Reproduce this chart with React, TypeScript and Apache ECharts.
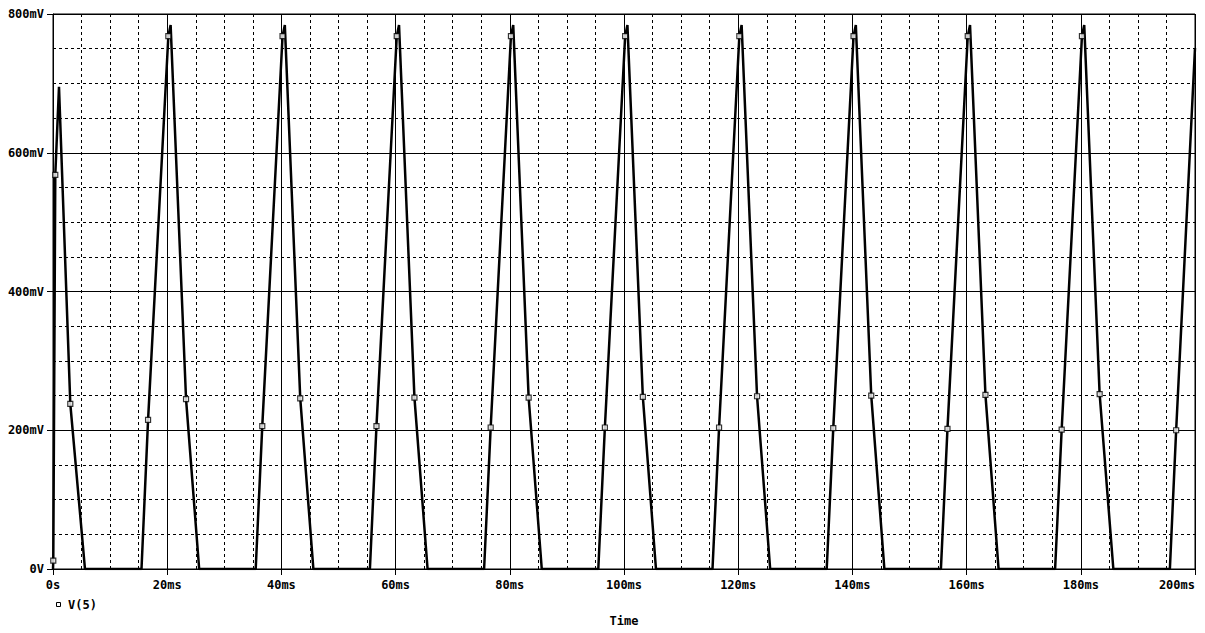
import React, { useEffect, useRef } from 'react';
import * as echarts from 'echarts';

// Time in ms, voltage in mV (trace V(5))
const timeMs = [
  0, 0.05, 0.4, 1.05, 3.03, 5.6,
  15.5, 16.65, 20.2, 20.6, 23.3, 25.6,
  35.5, 36.65, 40.2, 40.6, 43.3, 45.6,
  55.5, 56.65, 60.2, 60.6, 63.3, 65.6,
  75.5, 76.65, 80.2, 80.6, 83.3, 85.6,
  95.5, 96.65, 100.2, 100.6, 103.3, 105.6,
  115.5, 116.65, 120.2, 120.6, 123.3, 125.6,
  135.5, 136.65, 140.2, 140.6, 143.3, 145.6,
  155.5, 156.65, 160.2, 160.6, 163.3, 165.6,
  175.5, 176.65, 180.2, 180.6, 183.3, 185.7,
  195.6, 196.7, 200,
];
const voltageMv = [
  0, 12, 568, 695, 238, 0,
  0, 215, 768, 784, 245, 0,
  0, 206, 768, 784, 246, 0,
  0, 206, 768, 784, 247, 0,
  0, 204, 768, 784, 247, 0,
  0, 204, 768, 784, 248, 0,
  0, 204, 768, 784, 249, 0,
  0, 203, 768, 784, 250, 0,
  0, 202, 768, 784, 251, 0,
  0, 201, 768, 784, 252, 0,
  0, 200, 751,
];
const markerTimeMs = [
  0.05, 0.4, 3.03,
  16.65, 20.2, 23.3,
  36.65, 40.2, 43.3,
  56.65, 60.2, 63.3,
  76.65, 80.2, 83.3,
  96.65, 100.2, 103.3,
  116.65, 120.2, 123.3,
  136.65, 140.2, 143.3,
  156.65, 160.2, 163.3,
  176.65, 180.2, 183.3,
  196.7,
];
const markerVoltageMv = [
  12, 568, 238,
  215, 768, 245,
  206, 768, 246,
  206, 768, 247,
  204, 768, 247,
  204, 768, 248,
  204, 768, 249,
  203, 768, 250,
  202, 768, 251,
  201, 768, 252,
  200,
];
const xTickLabels = ['0s', '20ms', '40ms', '60ms', '80ms', '100ms', '120ms', '140ms', '160ms', '180ms', '200ms'];
const yTickLabels = ['0V', '200mV', '400mV', '600mV', '800mV'];
const traceName = 'V(5)';
const xAxisTitle = 'Time';

const FONT = '"DejaVu Sans Mono", monospace';

export default function App() {
  const ref = useRef<HTMLDivElement>(null);
  useEffect(() => {
    if (!ref.current) return;
    const chart = echarts.init(ref.current, null, { renderer: 'svg' });
    const lineData = timeMs.map((t, i) => [t, voltageMv[i]]);
    const markerData = markerTimeMs.map((t, i) => [t, markerVoltageMv[i]]);
    chart.setOption({
      animation: false,
      backgroundColor: '#fff',
      grid: {
        left: 53, right: 10, top: 14, bottom: 64,
        show: true, borderColor: '#000', borderWidth: 1,
      },
      xAxis: {
        type: 'value', min: 0, max: 200, interval: 20,
        name: xAxisTitle, nameLocation: 'middle', nameGap: 46,
        nameTextStyle: { color: '#000', fontFamily: FONT, fontWeight: 'bold', fontSize: 12 },
        axisLine: { show: true, lineStyle: { color: '#000', width: 1 } },
        axisTick: { show: true, length: 6, lineStyle: { color: '#000' } },
        axisLabel: {
          color: '#000', fontFamily: FONT, fontWeight: 'bold', fontSize: 12, margin: 10,
          alignMaxLabel: 'right',
          formatter: (v: number) => xTickLabels[Math.round(v / 20)] ?? '',
        },
        splitLine: { show: true, lineStyle: { color: '#000', width: 1 } },
        minorTick: { show: false, splitNumber: 4 },
        minorSplitLine: { show: true, lineStyle: { color: '#000', width: 1, type: [3, 3] } },
      },
      yAxis: {
        type: 'value', min: 0, max: 800, interval: 200,
        axisLine: { show: true, lineStyle: { color: '#000', width: 1 } },
        axisTick: { show: true, length: 6, lineStyle: { color: '#000' } },
        axisLabel: {
          color: '#000', fontFamily: FONT, fontWeight: 'bold', fontSize: 12, margin: 9,
          formatter: (v: number) => yTickLabels[Math.round(v / 200)] ?? '',
        },
        splitLine: { show: true, lineStyle: { color: '#000', width: 1 } },
        minorTick: { show: false, splitNumber: 4 },
        minorSplitLine: { show: true, lineStyle: { color: '#000', width: 1, type: [3, 3] } },
      },
      series: [
        {
          name: traceName, type: 'line', data: lineData, showSymbol: false,
          lineStyle: { color: '#000', width: 2.5 }, z: 3,
        },
        {
          name: traceName, type: 'scatter', data: markerData, symbol: 'rect', symbolSize: 5,
          itemStyle: { color: '#fff', borderColor: '#000', borderWidth: 1.2 }, z: 4,
        },
      ],
      graphic: [
        {
          type: 'rect', shape: { x: 56.5, y: 602.5, width: 4, height: 4 },
          style: { fill: '#fff', stroke: '#000', lineWidth: 1 },
        },
        {
          type: 'text', x: 68, y: 605,
          style: { text: traceName, fill: '#000', font: `bold 12px ${FONT}`, verticalAlign: 'middle', align: 'left' },
        },
      ],
    });
    return () => chart.dispose();
  }, []);
  return <div ref={ref} style={{ position: 'fixed', left: 0, top: 0, width: 1205, height: 633, background: '#fff' }} />;
}
